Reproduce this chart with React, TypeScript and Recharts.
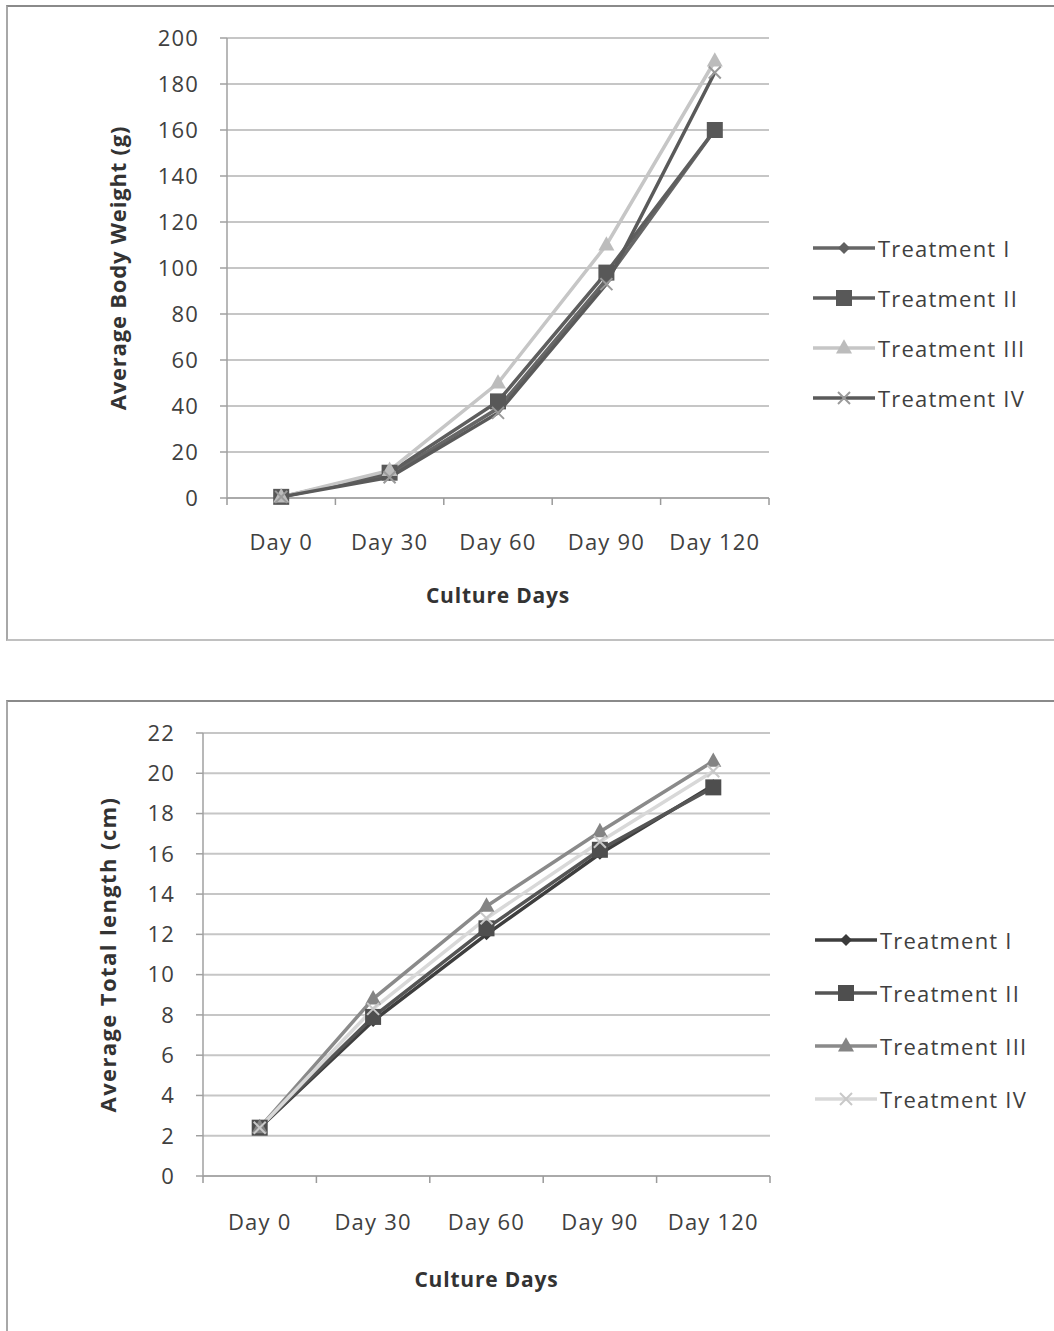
import React from "react";
import { LineChart, Line, XAxis, YAxis, CartesianGrid, Legend } from "recharts";

const days = ["Day 0", "Day 30", "Day 60", "Day 90", "Day 120"];
const seriesNames = ["Treatment I", "Treatment II", "Treatment III", "Treatment IV"];

const weightT1 = [0.5, 10, 39, 95, 160];
const weightT2 = [0.5, 11, 42, 98, 160];
const weightT3 = [0.5, 12, 50, 110, 190];
const weightT4 = [0.5, 9, 37, 93, 185];
const weightTicks = [0, 20, 40, 60, 80, 100, 120, 140, 160, 180, 200];

const lengthT1 = [2.4, 7.7, 12.0, 16.0, 19.4];
const lengthT2 = [2.4, 7.9, 12.3, 16.2, 19.3];
const lengthT3 = [2.4, 8.8, 13.4, 17.1, 20.6];
const lengthT4 = [2.4, 8.3, 12.8, 16.6, 20.1];
const lengthTicks = [0, 2, 4, 6, 8, 10, 12, 14, 16, 18, 20, 22];

const xTicks = [0, 0.5, 1, 1.5, 2, 2.5, 3, 3.5, 4, 4.5, 5];

const weightData = days.map((d, i) => ({
  x: i + 0.5,
  day: d,
  t1: weightT1[i],
  t2: weightT2[i],
  t3: weightT3[i],
  t4: weightT4[i],
}));
const lengthData = days.map((d, i) => ({
  x: i + 0.5,
  day: d,
  t1: lengthT1[i],
  t2: lengthT2[i],
  t3: lengthT3[i],
  t4: lengthT4[i],
}));

const FONT = "'Open Sans', 'DejaVu Sans', sans-serif";
const TEXT = "#404040";

type Style = { key: string; name: string; line: string; marker: string; shape: string; size: number };

const topStyles: Style[] = [
  { key: "t1", name: seriesNames[0], line: "#666666", marker: "#606060", shape: "diamond", size: 6 },
  { key: "t2", name: seriesNames[1], line: "#5e5e5e", marker: "#585858", shape: "square", size: 8 },
  { key: "t3", name: seriesNames[2], line: "#c6c6c6", marker: "#bcbcbc", shape: "triangle", size: 8 },
  { key: "t4", name: seriesNames[3], line: "#5a5a5a", marker: "#9a9a9a", shape: "x", size: 6 },
];
const bottomStyles: Style[] = [
  { key: "t1", name: seriesNames[0], line: "#3e3e3e", marker: "#3a3a3a", shape: "diamond", size: 6 },
  { key: "t2", name: seriesNames[1], line: "#555555", marker: "#4e4e4e", shape: "square", size: 8 },
  { key: "t3", name: seriesNames[2], line: "#8a8a8a", marker: "#848484", shape: "triangle", size: 8 },
  { key: "t4", name: seriesNames[3], line: "#d8d8d8", marker: "#c8c8c8", shape: "x", size: 6 },
];

function Marker({ cx, cy, shape, size, color }: { cx: number; cy: number; shape: string; size: number; color: string }) {
  if (cx == null || cy == null || isNaN(cx) || isNaN(cy)) return null;
  const s = size;
  if (shape === "diamond") {
    return <polygon points={`${cx},${cy - s} ${cx + s},${cy} ${cx},${cy + s} ${cx - s},${cy}`} fill={color} />;
  }
  if (shape === "square") {
    return <rect x={cx - s} y={cy - s} width={2 * s} height={2 * s} fill={color} />;
  }
  if (shape === "triangle") {
    return <polygon points={`${cx},${cy - s * 1.1} ${cx + s},${cy + s * 0.7} ${cx - s},${cy + s * 0.7}`} fill={color} />;
  }
  return (
    <g stroke={color} strokeWidth={2}>
      <line x1={cx - s} y1={cy - s} x2={cx + s} y2={cy + s} />
      <line x1={cx - s} y1={cy + s} x2={cx + s} y2={cy - s} />
    </g>
  );
}

function makeDot(st: Style) {
  return (props: any) => (
    <Marker key={`${st.key}-${props.index}`} cx={props.cx} cy={props.cy} shape={st.shape} size={st.size} color={st.marker} />
  );
}

function makeXTick(gap: number) {
  return (props: any) => {
    const { x, y, payload } = props;
    const v = payload.value as number;
    if (Number.isInteger(v)) {
      return <line x1={x} y1={y} x2={x} y2={y + 7} stroke="#9a9a9a" strokeWidth={1.5} />;
    }
    return (
      <text x={x} y={y + gap} textAnchor="middle" fontFamily={FONT} fontSize={22} letterSpacing={1.2} fill={TEXT}>
        {days[Math.floor(v)]}
      </text>
    );
  };
}

function makeLegend(styles: Style[], rowH: number) {
  return () => (
    <div style={{ fontFamily: FONT }}>
      {styles.map((st) => (
        <div key={st.key} style={{ height: rowH, display: "flex", alignItems: "center" }}>
          <svg width={62} height={24} style={{ display: "block" }}>
            <line x1={0} y1={12} x2={62} y2={12} stroke={st.line} strokeWidth={3.5} />
            <Marker cx={31} cy={12} shape={st.shape} size={st.size} color={st.marker} />
          </svg>
          <span style={{ fontSize: 22, letterSpacing: 1.2, color: TEXT, marginLeft: 3, lineHeight: 1 }}>{st.name}</span>
        </div>
      ))}
    </div>
  );
}

function Panel({
  data,
  styles,
  ticks,
  yMax,
  yTitle,
  height,
  yAxisWidth,
  marginTop,
  marginRight,
  marginBottom,
  xAxisHeight,
  xLabelGap,
  yTitleOffset,
  yTitleSpacing,
  legendLeft,
  legendTop,
  legendRow,
}: any) {
  return (
    <LineChart
      width={1046}
      height={height}
      data={data}
      margin={{ top: marginTop, right: marginRight, bottom: marginBottom, left: 0 }}
    >
      <CartesianGrid vertical={false} stroke="#c6c6c6" strokeWidth={2} />
      <XAxis
        dataKey="x"
        type="number"
        domain={[0, 5]}
        ticks={xTicks}
        interval={0}
        tickLine={false}
        tickSize={0}
        tickMargin={0}
        axisLine={{ stroke: "#a0a0a0", strokeWidth: 1.5 }}
        tick={makeXTick(xLabelGap)}
        height={xAxisHeight}
        label={{
          value: "Culture Days",
          position: "insideBottom",
          offset: 15,
          style: { fontFamily: FONT, fontSize: 21, fontWeight: 700, letterSpacing: 0.8, fill: "#333333" },
        }}
      />
      <YAxis
        type="number"
        domain={[0, yMax]}
        ticks={ticks}
        interval={0}
        width={yAxisWidth}
        tickSize={7}
        tickMargin={21}
        tickLine={{ stroke: "#a0a0a0", strokeWidth: 1.5 }}
        axisLine={{ stroke: "#a0a0a0", strokeWidth: 1.5 }}
        tick={{ fontFamily: FONT, fontSize: 22, letterSpacing: 1.2, fill: TEXT }}
        label={{
          value: yTitle,
          angle: -90,
          position: "insideLeft",
          offset: yTitleOffset,
          style: {
            textAnchor: "middle",
            fontFamily: FONT,
            fontSize: 22,
            fontWeight: 700,
            letterSpacing: yTitleSpacing,
            fill: "#333333",
          },
        }}
      />
      <Legend
        layout="vertical"
        align="center"
        verticalAlign="middle"
        content={makeLegend(styles, legendRow)}
        wrapperStyle={{ left: legendLeft, top: legendTop, width: 240 }}
      />
      {styles.map((st: Style) => (
        <Line
          key={st.key}
          dataKey={st.key}
          name={st.name}
          stroke={st.line}
          strokeWidth={3.5}
          dot={makeDot(st)}
          activeDot={false}
          isAnimationActive={false}
        />
      ))}
    </LineChart>
  );
}

export default function App() {
  return (
    <div style={{ position: "absolute", left: 0, top: 0, width: 1054, height: 1331, overflow: "hidden", background: "#fff" }}>
      <div
        style={{
          position: "absolute",
          left: 6,
          top: 5,
          width: 1060,
          height: 632,
          borderTop: "2px solid #8a8a8a",
          borderLeft: "2px solid #a8a8a8",
          borderBottom: "2px solid #c0c0c0",
        }}
      >
        <Panel
          data={weightData}
          styles={topStyles}
          ticks={weightTicks}
          yMax={200}
          yTitle="Average Body Weight (g)"
          height={630}
          yAxisWidth={219}
          marginTop={31}
          marginRight={285}
          marginBottom={19}
          xAxisHeight={120}
          xLabelGap={52}
          yTitleOffset={110}
          yTitleSpacing={0.8}
          legendLeft={805}
          legendTop={216}
          legendRow={50}
        />
      </div>
      <div
        style={{
          position: "absolute",
          left: 6,
          top: 700,
          width: 1060,
          height: 660,
          borderTop: "2px solid #8a8a8a",
          borderLeft: "2px solid #a8a8a8",
        }}
      >
        <Panel
          data={lengthData}
          styles={bottomStyles}
          ticks={lengthTicks}
          yMax={22}
          yTitle="Average Total length (cm)"
          height={628}
          yAxisWidth={195}
          marginTop={31}
          marginRight={284}
          marginBottom={28}
          xAxisHeight={126}
          xLabelGap={54}
          yTitleOffset={100}
          yTitleSpacing={1.4}
          legendLeft={807}
          legendTop={211}
          legendRow={53}
        />
      </div>
    </div>
  );
}
